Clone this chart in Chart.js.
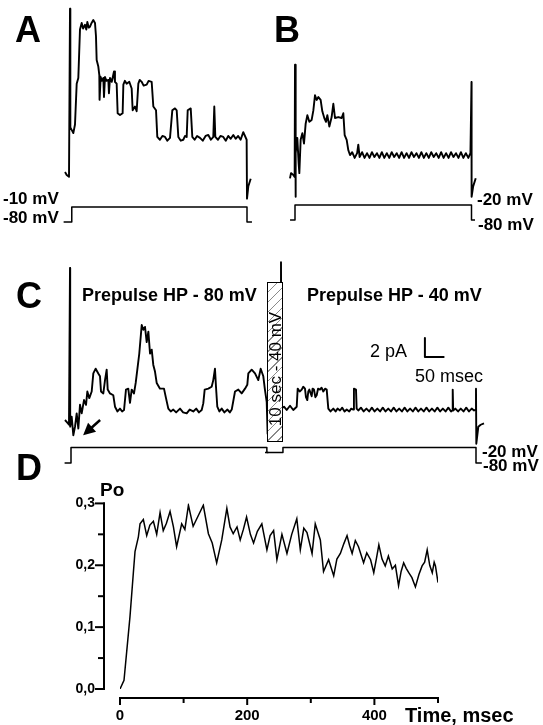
<!DOCTYPE html>
<html>
<head>
<meta charset="utf-8">
<script src="https://cdn.jsdelivr.net/npm/chart.js@4.4.0/dist/chart.umd.min.js"></script>
<style>
  html, body { margin: 0; padding: 0; background: #fff; }
  #page { position: relative; width: 543px; height: 725px; overflow: hidden; font-family: "Liberation Sans", Arial, sans-serif; color: #000; }
  canvas { position: absolute; left: 0; }
  .lbl { position: absolute; white-space: nowrap; line-height: 1; }
  .panel { font-size: 36px; font-weight: bold; }
  .mv { font-size: 17px; font-weight: bold; }
  .pre { font-size: 18px; font-weight: bold; }
  .bar { font-size: 18px; }
  #gap { position: absolute; left: 267px; top: 282px; width: 16px; height: 160px; box-sizing: border-box;
         border: 1px solid #000; background: repeating-linear-gradient(135deg, #fff 0 6px, #8a8a8a 6px 7px); }
  #gap span { position: absolute; left: 50%; top: 50%; font-size: 17px; white-space: nowrap; line-height: 1;
              transform: translate(-50%, -50%) translateY(7px) rotate(-90deg); }
</style>
</head>
<body>
<div id="page">
  <canvas id="traces" width="543" height="470" style="top:0"></canvas>
  <canvas id="poChart" width="543" height="255" style="top:470px"></canvas>

  <div class="lbl panel" style="left:15px;top:12px">A</div>
  <div class="lbl panel" style="left:274px;top:12px">B</div>
  <div class="lbl panel" style="left:16px;top:278px">C</div>
  <div class="lbl panel" style="left:16px;top:450px">D</div>

  <div class="lbl mv" style="left:3px;top:190px">-10 mV</div>
  <div class="lbl mv" style="left:3px;top:209px">-80 mV</div>
  <div class="lbl mv" style="left:477px;top:191px">-20 mV</div>
  <div class="lbl mv" style="left:478px;top:216px">-80 mV</div>
  <div class="lbl mv" style="left:482px;top:443px">-20 mV</div>
  <div class="lbl mv" style="left:483px;top:457px">-80 mV</div>

  <div class="lbl pre" style="left:82px;top:286px">Prepulse HP - 80 mV</div>
  <div class="lbl pre" style="left:307px;top:286px">Prepulse HP - 40 mV</div>
  <div class="lbl bar" style="left:370px;top:342px">2 pA</div>
  <div class="lbl bar" style="left:415px;top:367px">50 msec</div>

  <div id="gap"><span>10 sec - 40 mV</span></div>

  <div class="lbl" style="left:100px;top:480px;font-size:19px;font-weight:bold">Po</div>
  <div class="lbl" style="left:405px;top:705px;font-size:20px;font-weight:bold">Time, msec</div>
</div>
<script>
// ---- data (time in msec, current in pA, voltage in mV) ----
const aTime = [-14.1,-9.3,-2.8,0,1,9.4,14.1,18.9,23.5,28.2,33,37,42.4,46,49,53,56.5,61,65.8,70.6,73.4,75.3,80,82.8,83.5,86.7,90,94.2,96,98.9,103,108.3,110,113,118,124.3,127,131.8,134.6,141.2,148.7,150.7,155,160,167.5,174.2,177,183.6,188.3,193,197,202.4,208,216.6,222,230.7,235.4,243,246.6,254,261,268.4,275,282.5,289,296.6,301.4,306,313,320,325,329.6,332.5,341,345.5,352,359,367.2,375,383,390.7,398,404.8,407.6,410.5,418,425,433,440,447,454,461.3,468,475,482,489.5,499,500,503.7,510.5];
const aCurrent = [0.1,-0.2,-0.4,17.3,4.8,4.2,5.1,9.4,10.0,15.1,15.8,15.2,15.6,15.1,15.9,15.3,15.4,15.8,16.1,15.8,14.4,11.9,11.2,10.3,7.7,10.1,9.7,10.0,8.0,10.1,9.7,9.8,8.4,10.0,9.6,10.7,9.6,9.4,6.3,6.1,6.3,9.3,9.7,9.4,9.6,8.9,6.6,7.0,6.5,9.4,9.8,9.6,9.2,9.3,9.7,9.6,7.0,6.6,3.8,3.5,3.9,3.8,3.4,3.7,6.6,6.8,6.6,3.8,3.4,3.5,3.9,3.8,6.6,6.8,3.8,3.5,3.9,3.7,3.4,3.9,4.0,3.5,3.8,7.0,3.8,3.5,3.9,3.8,3.4,3.9,3.6,4.0,3.6,3.9,3.5,4.3,3.5,-2.7,-1.4,-0.6];

const bTime = [-14.2,-11.3,-4.7,-1,0,1,2.8,6.6,10.4,12.3,16,20.8,25.5,30.2,35,40.6,47.2,52,56.7,61.4,66.2,72.6,77.4,83,87.8,91.6,97.3,103.8,108.6,113.3,122.8,132.2,136.9,140.7,146.4,151.1,155.8,
  162,169,176,179.3,183,
  190,197,204,211,218,225,232,239,246,253,260,267,274,281,288,295,302,309,316,323,330,337,344,351,358,365,372,379,386,393,400,407,414,421,428,435,442,449,456,463,470,477,484,491,
  497,500,500.3,504.7,512];
const bCurrent = [-0.35,0.2,0,-0.2,11.6,-2.3,2.3,3.9,1.2,0.2,3.7,4.4,3.3,5.4,6.3,5.6,5.8,6.8,8.4,7.9,8.2,7.9,6.7,6.0,5.6,6.3,5.1,6.1,7.5,6.0,6.1,6.0,6.5,4.2,3.7,2.6,2.1,
  2.4,1.8,2.3,3.2,1.9,
  2.4,1.8,2.3,1.8,2.4,1.9,2.3,1.8, 2.4,1.8,2.3,1.8,2.4,1.9,2.3,1.8, 2.4,1.8,2.3,1.8,2.4,1.9,2.3,1.8, 2.4,1.8,2.3,1.8,2.4,1.9,2.3,1.8, 2.4,1.8,2.3,1.8,2.4,1.9,2.3,1.8, 2.4,1.8,2.3,1.8,
  2.3,9.8,-2.3,-1.2,-0.35];

const cLeftTime = [-13,-8.6,-2.6,0,0.5,4.3,8.6,13,17.3,21.6,25.9,30.3,36.3,41.5,44.9,50,56.2,60.4,66.5,73.3,77.7,80.3,86.3,90.7,95,97.7,103.6,112.2,116.6,123,129.5,135,140,145,151,155.4,159.8,165.8,170.2,174.4,179.5,185.8,190,194.3,198.7,203,207.3,211.7,215.8,220.2,224.6,233.2,243.5,248.7,254.7,261,267.6,275,285,293,302.3,310,319.4,327,334,341.2,345.3,348.9,358.3,367,371.2,375.6,378.2,381.6,387,393,400,408,414,419,427.5,436,444.8,453.4,459.3,462,470.7,479.3,487.8,494,500.8,505,509.6,512];
const cLeftCurrent = [0,-0.2,-0.5,16,-0.7,0.35,-1.6,-0.7,0.7,-0.9,1.6,0.7,2.1,1.6,3.0,2.3,3.0,4.9,5.4,4.9,4.6,3.0,2.8,4.2,5.3,3.2,2.8,2.6,1.4,0.9,1.2,0.9,1.05,3.2,3.3,1.8,3.2,2.8,3.9,5.3,7.0,10.0,9.5,9.8,8.2,9.3,7.0,7.4,5.8,5.1,3.9,3.3,3.3,2.3,1.2,0.9,1.1,0.8,1.2,0.8,0.7,1.1,0.9,1.2,0.8,1.05,1.75,3.2,3.3,3.5,4.2,5.4,3.5,1.4,0.9,1.2,0.8,1.1,0.8,1.1,3.0,3.2,2.8,3.3,3.7,4.9,5.3,4.9,4.2,5.4,4.6,3.2,1.9,-1.5];

const cRightTime = [-2,0,1,7.7,14.6,23.1,31.5,40.3,42.8,48,53.1,57,61.5,64,67.4,70,72.6,78.7,81,84.6,88,91.5,95,100,104,108.5,113,117.2,121.3,127,134.1,140,145,151.3,157,163,168.5,175,180,185.4,187,192.3,194,198.2,
  205,212,219,226,233,240,247,254,261,268,275,282,289,296,303,310,317,324,331,338,345,352,359,366,373,380,387,394,401,408,415,422,429,436,
  439,440.3,441.5,447,454,461,468,475,482,489,495,499.5,500,500.8,506,512,520.5];
const cRightCurrent = [1.0,16.6,1.2,1.4,1.05,1.5,1.05,1.4,3.3,3.0,3.2,3.5,3.3,2.4,2.1,3.0,3.2,2.5,3.3,3.2,2.4,2.6,3.3,3.2,3.4,3.0,3.3,3.2,1.2,0.9,1.2,0.9,1.2,1.0,1.3,0.9,1.1,0.9,1.2,1.1,3.3,3.2,1.2,1.0,
  1.3,0.9,1.2,0.9, 1.3,0.9,1.2,0.9, 1.3,0.9,1.2,0.9, 1.3,0.9,1.2,0.9, 1.3,0.9,1.2,0.9, 1.3,0.9,1.2,0.9, 1.3,0.9,1.2,0.9, 1.3,0.9,1.2,0.9, 1.3,0.9,
  1.0,3.2,1.0,1.2,0.9,1.2,0.9,1.3,0.9,1.2,1.0,1.1,3.3,-2.5,-0.7,-0.5,-0.35];

// voltage protocols
const protoATime = [-18,5,5,500,500,514];
const protoAmV = [-80,-80,-10,-10,-80,-80];
const protoBTime = [-14,0,0,500,500,510];
const protoBmV = [-80,-80,-20,-20,-80,-80];
const protoC1Time = [-14,2.6,2.6,510,510,514];
const protoC1mV = [-80,-80,-20,-20,-40,-40];
const protoC2Time = [-41,5,5,500,500,515];
const protoC2mV = [-40,-40,-20,-20,-80,-80];

// calibration bar
const scaleBarPA = 2;
const scaleBarMs = 50;

// panel D: open probability
const poTime = [0,6.3,15.7,21,23.6,28.9,31.5,36.7,42,47,52.5,57.7,63,68,73,78.7,84,89,97,102,107.6,115,123,131,139,145,152,160,168,173,178,184,189,194,199,205,210,216,223,231,236,241.5,246.7,254.6,262.5,270,278,283.5,289,294,302,307,315,320,328,336,341,346.5,352,357,361,365,370,375,383,388,394,399,403,407,412,417,422,428,433,438,442,446,450,454,459,464.5,470,475,479,483,487,491,494,496,500];
const poValue = [0,0.014,0.117,0.188,0.222,0.246,0.267,0.274,0.248,0.265,0.271,0.25,0.285,0.256,0.268,0.287,0.262,0.23,0.267,0.258,0.297,0.263,0.28,0.297,0.251,0.236,0.204,0.241,0.292,0.262,0.251,0.262,0.241,0.258,0.278,0.25,0.236,0.255,0.267,0.225,0.248,0.256,0.209,0.25,0.219,0.25,0.275,0.225,0.26,0.253,0.219,0.267,0.241,0.19,0.209,0.183,0.21,0.219,0.235,0.248,0.232,0.219,0.24,0.23,0.204,0.22,0.209,0.188,0.21,0.233,0.21,0.199,0.215,0.194,0.2,0.167,0.19,0.204,0.195,0.188,0.18,0.165,0.185,0.199,0.205,0.225,0.2,0.188,0.205,0.199,0.172];
const poXTicks = [0, 200, 400];

// ---- layout ----
const W = 543, TRACE_H = 470;
const barAnchor = { t: 369, i: 6.63 };
const arrowFrom = { t: 78, i: 0 }, arrowTo = { t: 34, i: -1.6 };

Chart.defaults.font.family = '"Liberation Sans", Arial, sans-serif';
Chart.defaults.color = '#000';

function timeAxis(zeroPx, pxPerMs) {
  return { type: 'linear', axis: 'x', display: false, min: -zeroPx / pxPerMs, max: (W - zeroPx) / pxPerMs };
}
function valueAxis(refValue, refPx, pxPerUnit) {
  return { type: 'linear', axis: 'y', display: false,
           min: refValue - (TRACE_H - refPx) / pxPerUnit, max: refValue + refPx / pxPerUnit };
}
function pts(ts, vs) { return ts.map((t, k) => ({ x: t, y: vs[k] })); }
function line(ts, vs, xId, yId, width) {
  return { data: pts(ts, vs), xAxisID: xId, yAxisID: yId, borderColor: '#000',
           borderWidth: width, pointRadius: 0, tension: 0, fill: false, borderJoinStyle: 'round' };
}

const arrowPlugin = {
  id: 'arrow',
  afterDatasetsDraw(chart) {
    const x = chart.scales.xC1, y = chart.scales.yC, ctx = chart.ctx;
    const x0 = x.getPixelForValue(arrowFrom.t), y0 = y.getPixelForValue(arrowFrom.i);
    const x1 = x.getPixelForValue(arrowTo.t), y1 = y.getPixelForValue(arrowTo.i);
    const ang = Math.atan2(y1 - y0, x1 - x0);
    ctx.save();
    ctx.strokeStyle = '#000'; ctx.fillStyle = '#000'; ctx.lineWidth = 2.5;
    ctx.beginPath();
    ctx.moveTo(x0, y0);
    ctx.lineTo(x1 - 9 * Math.cos(ang), y1 - 9 * Math.sin(ang));
    ctx.stroke();
    ctx.beginPath();
    ctx.moveTo(x1, y1);
    ctx.lineTo(x1 - 12 * Math.cos(ang) + 6 * Math.sin(ang), y1 - 12 * Math.sin(ang) - 6 * Math.cos(ang));
    ctx.lineTo(x1 - 12 * Math.cos(ang) - 6 * Math.sin(ang), y1 - 12 * Math.sin(ang) + 6 * Math.cos(ang));
    ctx.closePath();
    ctx.fill();
    ctx.restore();
  }
};

new Chart(document.getElementById('traces'), {
  type: 'line',
  data: {
    datasets: [
      line(aTime, aCurrent, 'xA', 'yA', 1.9),
      line(protoATime, protoAmV, 'xA', 'vA', 1.5),
      line(bTime, bCurrent, 'xB', 'yB', 1.9),
      line(protoBTime, protoBmV, 'xB', 'vB', 1.5),
      line(cLeftTime, cLeftCurrent, 'xC1', 'yC', 1.9),
      line(cRightTime, cRightCurrent, 'xC2', 'yC', 1.9),
      line(protoC1Time, protoC1mV, 'xC1', 'vC', 1.5),
      line(protoC2Time, protoC2mV, 'xC2', 'vC', 1.5),
      line([barAnchor.t, barAnchor.t, barAnchor.t + scaleBarMs],
           [barAnchor.i + scaleBarPA, barAnchor.i, barAnchor.i], 'xC2', 'yC', 2)
    ]
  },
  options: {
    responsive: false,
    animation: false,
    layout: { padding: 0 },
    plugins: { legend: { display: false }, tooltip: { enabled: false } },
    scales: {
      xA: timeAxis(70, 0.354),
      yA: valueAxis(0, 173, 9.5),
      vA: valueAxis(-80, 222, 15 / 70),
      xB: timeAxis(295, 0.353),
      yB: valueAxis(0, 175, 9.5),
      vB: valueAxis(-80, 220, 0.25),
      xC1: timeAxis(70, 0.386),
      xC2: timeAxis(281, 0.39),
      yC: valueAxis(0, 420, 9.5),
      vC: valueAxis(-80, 463, 0.26)
    }
  },
  plugins: [arrowPlugin]
});

// panel D axes are drawn detached from the plot area, as in the figure
const yAxisGap = 16, xAxisGap = 9;
const offsetAxes = {
  id: 'offsetAxes',
  afterDraw(chart) {
    const { ctx, chartArea: a } = chart;
    const x = chart.scales.x, y = chart.scales.y;
    ctx.save();
    ctx.strokeStyle = '#000';
    ctx.lineWidth = 2;
    ctx.lineCap = 'square';
    const ax = a.left - yAxisGap;
    ctx.beginPath();
    ctx.moveTo(ax, y.getPixelForValue(y.max));
    ctx.lineTo(ax, y.getPixelForValue(y.min));
    ctx.stroke();
    y.ticks.forEach(tk => {
      const py = y.getPixelForValue(tk.value);
      const len = tk.label ? 8 : 5;
      ctx.beginPath(); ctx.moveTo(ax - len, py); ctx.lineTo(ax, py); ctx.stroke();
    });
    const ay = a.bottom + xAxisGap;
    ctx.beginPath();
    ctx.moveTo(x.getPixelForValue(x.min), ay);
    ctx.lineTo(x.getPixelForValue(x.max), ay);
    ctx.stroke();
    x.ticks.forEach(tk => {
      const px = x.getPixelForValue(tk.value);
      const len = tk.label ? 6 : 4;
      ctx.beginPath(); ctx.moveTo(px, ay); ctx.lineTo(px, ay + len); ctx.stroke();
    });
    ctx.restore();
  }
};

new Chart(document.getElementById('poChart'), {
  type: 'line',
  data: {
    datasets: [{
      data: pts(poTime, poValue),
      borderColor: '#000',
      borderWidth: 1.5,
      pointRadius: 0,
      tension: 0,
      fill: false
    }]
  },
  options: {
    responsive: false,
    animation: false,
    layout: { padding: { left: 0, top: 29, right: 105, bottom: 0 } },
    plugins: { legend: { display: false }, tooltip: { enabled: false } },
    scales: {
      x: {
        type: 'linear', min: 0, max: 500,
        afterFit: s => { s.height = 36; },
        grid: { display: false, drawTicks: false },
        border: { display: false },
        ticks: {
          stepSize: 100, padding: 18, autoSkip: false, maxRotation: 0,
          color: '#000', font: { size: 15, weight: 'bold' },
          callback: v => poXTicks.includes(v) ? String(v) : ''
        }
      },
      y: {
        type: 'linear', min: 0, max: 0.3,
        afterFit: s => { s.width = 120; },
        grid: { display: false, drawTicks: false },
        border: { display: false },
        ticks: {
          stepSize: 0.05, padding: 25,
          color: '#000', font: { size: 14, weight: 'bold' },
          callback: v => {
            const r = Math.round(v * 100);
            return r % 10 === 0 ? (r / 100).toFixed(1).replace('.', ',') : '';
          }
        }
      }
    }
  },
  plugins: [offsetAxes]
});
</script>
</body>
</html>
